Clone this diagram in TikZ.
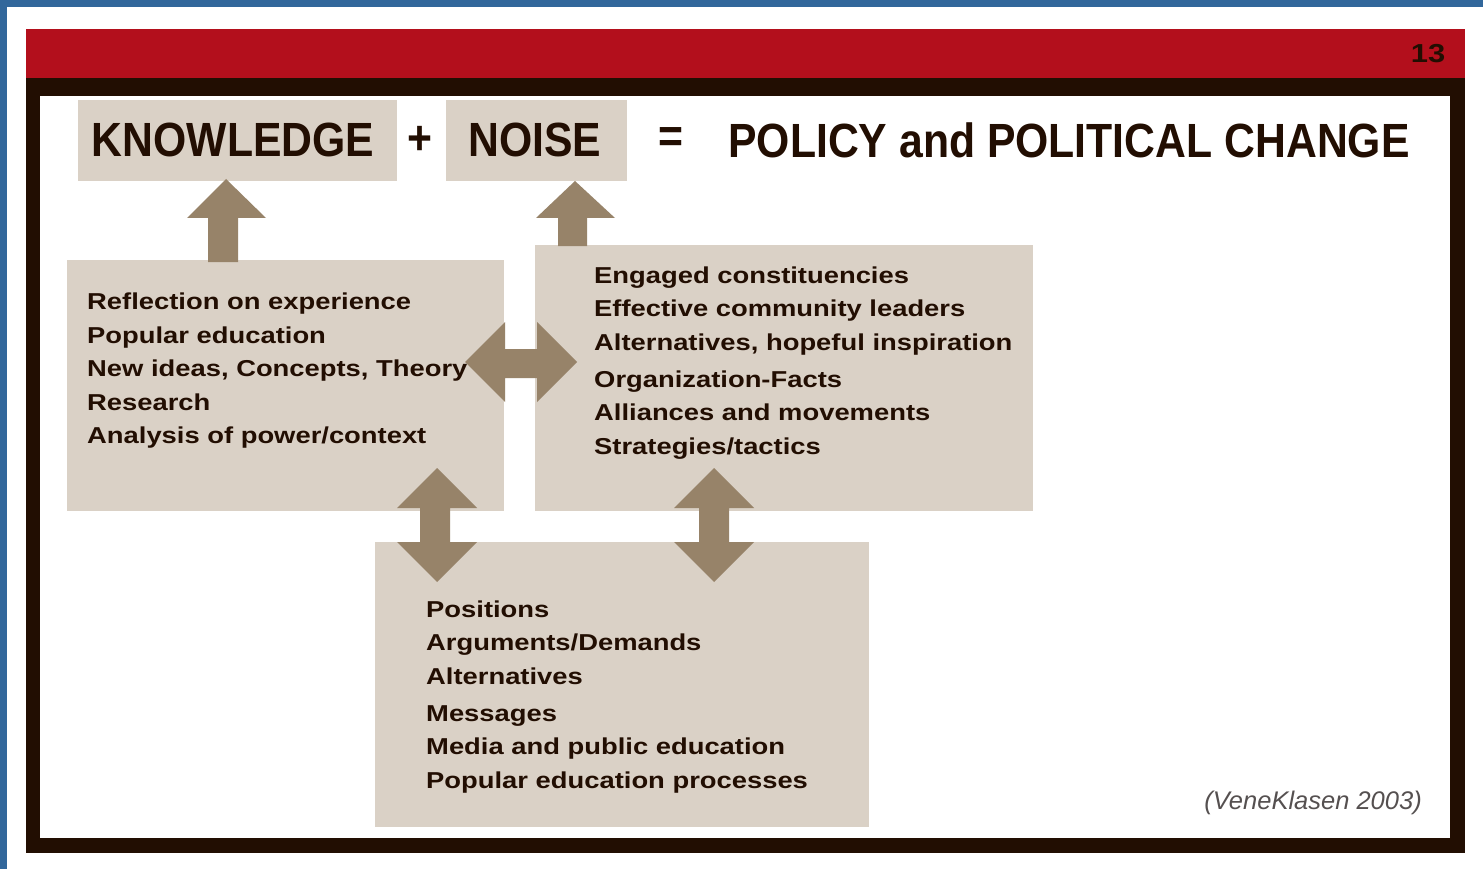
\documentclass[tikz,border=0pt]{standalone}
\usepackage{fontspec}
\setmainfont{Liberation Sans}
\newfontfamily\titlefont{Liberation Sans}[FakeStretch=0.89]
\newfontfamily\bodyfont{Liberation Sans}[FakeStretch=1.19]
\definecolor{edgeblue}{RGB}{50,103,155}
\definecolor{barred}{RGB}{179,15,28}
\definecolor{framedark}{RGB}{34,14,2}
\definecolor{boxbeige}{RGB}{218,209,198}
\definecolor{arrowbrown}{RGB}{151,131,105}
\definecolor{citegray}{RGB}{85,80,80}
\tikzset{
  box/.style={fill=boxbeige, draw=none, inner sep=0pt, anchor=north west},
  titletext/.style={text=framedark, font=\titlefont\bfseries\fontsize{48}{52}\selectfont, inner sep=0pt},
  bodytext/.style={text=framedark, font=\bodyfont\bfseries\fontsize{23}{33.5}\selectfont, align=left, inner sep=0pt, anchor=west},
  blockarrow/.style={fill=arrowbrown, draw=none}
}
\begin{document}
\begin{tikzpicture}[x=1pt,y=-1pt]
\useasboundingbox (0,0) rectangle (1483,869);
% page background and edges
\fill[white] (0,0) rectangle (1483,869);
\fill[edgeblue] (0,0) rectangle (1483,7);
\fill[edgeblue] (0,0) rectangle (7,869);
% slide frame
\fill[barred] (26,29) rectangle (1465,78);
\fill[framedark] (26,78) rectangle (1465,853);
\fill[white] (40,96) rectangle (1450,838);
\node[text=framedark, font=\bodyfont\bfseries\fontsize{26}{28}\selectfont, inner sep=0pt] (pagenum) at (1428,54) {13};

% boxes
\node[box, minimum width=319pt, minimum height=81pt] (kn) at (78,100) {};
\node[box, minimum width=181pt, minimum height=81pt] (no) at (446,100) {};
\node[box, minimum width=437pt, minimum height=251pt] (lb) at (67,260) {};
\node[box, minimum width=498pt, minimum height=266pt] (rb) at (535,245) {};
\node[box, minimum width=494pt, minimum height=285pt] (bb) at (375,542) {};

% title line
\node[titletext] (knt) at (233,140) {KNOWLEDGE};
\node[titletext] (plus) at (420,140) {+};
\node[titletext] (not) at (535,140) {NOISE};
\node[titletext] (eq) at (671,140) {=};
\node[titletext] (pol) at (1069,140) {POLICY and POLITICAL CHANGE};

% block arrows
\fill[blockarrow] (226,179) -- (266,218) -- (238,218) -- (238,262) -- (208,262) -- (208,218) -- (187,218) -- cycle;
\fill[blockarrow] (575,181) -- (615,218) -- (587,218) -- (587,246) -- (558,246) -- (558,218) -- (536,218) -- cycle;
\fill[blockarrow] (465,362) -- (505,322) -- (505,349) -- (537,349) -- (537,322) -- (577,362)
  -- (537,402) -- (537,378) -- (505,378) -- (505,402) -- cycle;
\fill[blockarrow] (437,468) -- (477,508) -- (450,508) -- (450,542) -- (477,542) -- (437,582)
  -- (397,542) -- (420,542) -- (420,508) -- (397,508) -- cycle;
\fill[blockarrow] (714,468) -- (754,508) -- (729,508) -- (729,542) -- (754,542) -- (714,582)
  -- (674,542) -- (699,542) -- (699,508) -- (674,508) -- cycle;

% box texts
\node[bodytext] (lbt) at (87,371) {Reflection on experience\\Popular education\\New ideas, Concepts, Theory\\Research\\Analysis of power/context};
\node[bodytext] (rbt) at (594,363) {Engaged constituencies\\Effective community leaders\\Alternatives, hopeful inspiration\\[3.5pt]Organization-Facts\\Alliances and movements\\Strategies/tactics};
\node[bodytext] (bbt) at (426,697) {Positions\\Arguments/Demands\\Alternatives\\[3.5pt]Messages\\Media and public education\\Popular education processes};

% citation
\node[text=citegray, font=\itshape\fontsize{25.5}{27}\selectfont, inner sep=0pt, anchor=east] (cite) at (1422,803) {(VeneKlasen 2003)};
\end{tikzpicture}
\end{document}
